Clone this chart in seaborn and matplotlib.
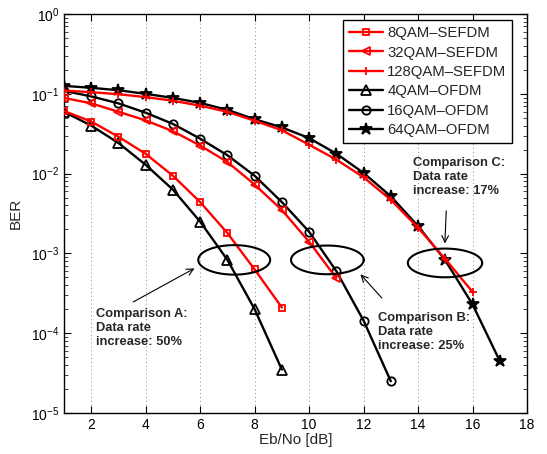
import numpy as np
import pandas as pd
import matplotlib
matplotlib.use("Agg")
import matplotlib.pyplot as plt
import matplotlib.ticker as mticker
import seaborn as sns

# ---------------- data ----------------
snr_8qam = [1, 2, 3, 4, 5, 6, 7, 8, 9]
ber_8qam_sefdm = [0.061, 0.045, 0.029, 0.0177, 0.0094, 0.0044, 0.0018, 6.3e-4, 2.1e-4]

snr_32qam = [1, 2, 3, 4, 5, 6, 7, 8, 9, 10, 11]
ber_32qam_sefdm = [0.089, 0.076, 0.0596, 0.0465, 0.034, 0.0225, 0.014, 0.0073, 0.0035, 0.0014, 4.9e-4]

snr_128qam = [1, 2, 3, 4, 5, 6, 7, 8, 9, 10, 11, 12, 13, 14, 15, 16]
ber_128qam_sefdm = [0.11, 0.105, 0.099, 0.091, 0.082, 0.071, 0.0596, 0.046, 0.035, 0.023,
                    0.015, 0.009, 0.0047, 0.0021, 8.5e-4, 3.3e-4]

snr_4qam = [1, 2, 3, 4, 5, 6, 7, 8, 9]
ber_4qam_ofdm = [0.0596, 0.04, 0.0242, 0.0129, 0.0063, 0.0025, 8.3e-4, 2.0e-4, 3.5e-5]

snr_16qam = [1, 2, 3, 4, 5, 6, 7, 8, 9, 10, 11, 12, 13]
ber_16qam_ofdm = [0.109, 0.093, 0.076, 0.058, 0.042, 0.0274, 0.017, 0.0094, 0.0044, 0.00187,
                  6.0e-4, 1.44e-4, 2.5e-5]

snr_64qam = [1, 2, 3, 4, 5, 6, 7, 8, 9, 10, 11, 12, 13, 14, 15, 16, 17]
ber_64qam_ofdm = [0.126, 0.119, 0.111, 0.1, 0.089, 0.077, 0.063, 0.048, 0.038, 0.0279,
                  0.0178, 0.0102, 0.0052, 0.0022, 8.2e-4, 2.3e-4, 4.5e-5]

labels = ["8QAM\u2013SEFDM", "32QAM\u2013SEFDM", "128QAM\u2013SEFDM",
          "4QAM\u2013OFDM", "16QAM\u2013OFDM", "64QAM\u2013OFDM"]

x_ticks = [2, 4, 6, 8, 10, 12, 14, 16, 18]

# ellipses: (center x, center BER, half width [dB], half height [decades])
ellipses = [(7.25, 8.3e-4, 1.32, 0.185), (10.67, 8.3e-4, 1.335, 0.18), (14.99, 7.6e-4, 1.365, 0.18)]

annot_texts = ["Comparison A:\nData rate\nincrease: 50%",
               "Comparison B:\nData rate\nincrease: 25%",
               "Comparison C:\nData rate\nincrease: 17%"]
annot_text_pos = [(2.16, 1.155e-4), (12.52, 1.04e-4), (13.82, 9.1e-3)]
arrow_tail = [(3.45, 2.37e-4), (12.74, 2.6e-4), (15.04, 3.7e-3)]
arrow_head = [(5.88, 6.75e-4), (11.82, 5.8e-4), (14.98, 1.23e-3)]

# ---------------- style ----------------
sns.set_theme(style="ticks")
plt.rcParams["font.family"] = ["Liberation Sans", "DejaVu Sans"]

fig = plt.figure(figsize=(5.47, 4.54), dpi=100)
ax = fig.add_axes([0.117, 0.0903, 0.8464, 0.8787])
ax.set_yscale("log")

series = [
    (snr_8qam, ber_8qam_sefdm, "red", "s", 5, "none", 4),
    (snr_32qam, ber_32qam_sefdm, "red", "<", 6, "none", 4),
    (snr_128qam, ber_128qam_sefdm, "red", "+", 6, "red", 4),
    (snr_4qam, ber_4qam_ofdm, "black", "^", 7, "none", 3),
    (snr_16qam, ber_16qam_ofdm, "black", "o", 6, "none", 3),
    (snr_64qam, ber_64qam_ofdm, "black", "*", 9, "black", 3),
]

for (x, y, c, m, ms, mfc, z), lab in zip(series, labels):
    df = pd.DataFrame({"x": x, "y": y})
    sns.lineplot(data=df, x="x", y="y", ax=ax, color=c, marker=m, markersize=ms,
                 markerfacecolor=mfc, markeredgecolor=c, markeredgewidth=1.3,
                 linewidth=1.7, label=lab, zorder=z)

# ellipses
t = np.linspace(0, 2 * np.pi, 200)
for cx, cy, a, b in ellipses:
    ax.plot(cx + a * np.cos(t), 10 ** (np.log10(cy) + b * np.sin(t)),
            color="black", lw=1.5, zorder=5)

# annotations
for txt, pos in zip(annot_texts, annot_text_pos):
    ax.text(pos[0], pos[1], txt, fontsize=9.3, fontweight="bold", ha="left", va="center",
            linespacing=1.22, zorder=6)
for tail, head in zip(arrow_tail, arrow_head):
    ax.annotate("", xy=head, xytext=tail,
                arrowprops=dict(arrowstyle="->", color="black", lw=0.8, mutation_scale=12),
                zorder=6)

# axes
ax.set_xlim(1, 18)
ax.set_ylim(1e-5, 1)
ax.set_xticks(x_ticks)
ax.xaxis.grid(True, linestyle=(0, (1, 3)), color="#888888", lw=0.7)
ax.yaxis.grid(False)
ax.yaxis.set_major_locator(mticker.LogLocator(base=10, numticks=10))
ax.yaxis.set_minor_locator(mticker.LogLocator(base=10, subs=np.arange(2, 10), numticks=10))
ax.yaxis.set_minor_formatter(mticker.NullFormatter())
ax.tick_params(axis="both", which="major", direction="in", length=5, width=0.8,
               top=True, right=True, labelsize=10, colors="black")
ax.tick_params(axis="y", which="minor", direction="in", length=3, width=0.6,
               left=True, right=True)
for s in ax.spines.values():
    s.set_color("black")
    s.set_linewidth(1.0)
ax.set_xlabel("Eb/No [dB]", fontsize=11, labelpad=1)
ax.set_ylabel("BER", fontsize=11, labelpad=6)

leg = ax.legend(loc="upper left", bbox_to_anchor=(0.602, 0.985), fontsize=10.7,
                frameon=True, fancybox=False, edgecolor="black", framealpha=1,
                handlelength=2.3, handletextpad=0.3, labelspacing=0.37, borderpad=0.4,
                borderaxespad=0)
leg.get_frame().set_linewidth(1.0)

fig.savefig("out.png", dpi=100)
